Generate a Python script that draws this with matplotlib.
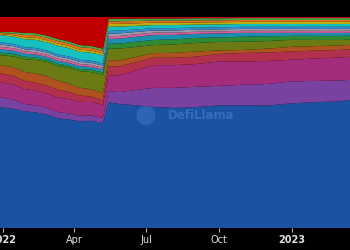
import numpy as np
import pandas as pd
import matplotlib
matplotlib.use("Agg")
import matplotlib.pyplot as plt
import matplotlib.dates as mdates

# dates of the sampled points (dominance %, stacked to 100)
dates = pd.to_datetime([
    "2021-12-28", "2022-01-14", "2022-01-28", "2022-02-11", "2022-02-25",
    "2022-03-11", "2022-03-25", "2022-04-08", "2022-04-22", "2022-05-07",
    "2022-05-14", "2022-05-28", "2022-06-15", "2022-07-10", "2022-08-05",
    "2022-09-01", "2022-10-01", "2022-11-01", "2022-12-01", "2023-01-01",
    "2023-02-01", "2023-03-01", "2023-03-15",
])

blue = [57.3, 56.5, 55.3, 54.8, 54.3, 52.5, 52.0, 50.5, 50.8, 49.8,
        59.5, 58.3, 57.6, 57.3, 56.9, 57.3, 58.1, 58.1, 57.6, 59.0, 59.3, 59.6, 60.7]
purple = [4.7, 4.3, 3.5, 3.3, 3.2, 3.0, 2.9, 2.7, 2.5, 2.4,
          5.2, 5.6, 7.0, 9.1, 9.5, 9.6, 9.2, 9.7, 10.2, 10.3, 10.0, 9.8, 9.5]
magenta = [7.1, 7.2, 7.1, 7.0, 7.0, 7.0, 6.8, 6.6, 6.4, 6.2,
           7.4, 7.9, 9.0, 10.8, 10.8, 10.8, 11.5, 11.0, 10.8, 10.3, 10.6, 10.8, 10.9]
crimson = [4.3, 4.1, 3.9, 3.8, 3.8, 3.7, 3.4, 3.0, 2.6, 2.4,
           4.3, 4.2, 3.9, 3.5, 3.5, 3.5, 3.6, 4.1, 4.0, 3.9, 3.7, 3.6, 3.6]
orange = [3.8, 4.0, 4.2, 4.3, 4.4, 4.3, 4.0, 3.7, 3.4, 3.3,
          3.0, 2.8, 2.5, 2.2, 2.3, 2.4, 1.7, 1.4, 1.8, 2.2, 2.1, 2.1, 2.1]
olive = [4.7, 5.2, 6.0, 6.4, 6.8, 7.0, 7.5, 7.8, 8.2, 8.5,
         5.5, 5.5, 4.8, 3.8, 4.0, 4.1, 4.0, 3.9, 3.6, 3.3, 2.9, 2.6, 2.4]
green = [1.2, 1.2, 1.2, 1.2, 1.1, 1.1, 1.1, 1.1, 1.1, 1.1,
         2.3, 2.4, 2.4, 2.4, 2.4, 2.4, 2.1, 2.4, 2.2, 1.9, 1.9, 1.9, 1.9]
teal = [1.6, 1.5, 1.4, 1.4, 1.3, 1.4, 1.3, 1.3, 1.3, 1.3,
        2.3, 2.3, 2.3, 2.4, 2.1, 1.9, 1.9, 1.8, 1.6, 1.4, 1.4, 1.4, 1.4]
pink = [1.2, 1.2, 1.1, 1.1, 1.1, 1.1, 1.1, 1.0, 1.0, 1.0,
        1.3, 1.3, 1.2, 1.1, 1.1, 1.0, 1.0, 1.0, 1.0, 1.0, 1.0, 1.0, 1.0]
gray = [1.1, 1.0, 1.0, 1.0, 1.0, 1.0, 1.0, 1.0, 1.0, 1.0,
        1.2, 1.2, 1.1, 1.0, 1.0, 1.0, 0.9, 0.9, 0.9, 0.9, 0.9, 0.9, 0.9]
light_blue = [1.1, 1.0, 1.0, 1.0, 1.0, 1.0, 1.0, 1.0, 1.0, 1.0,
              1.3, 1.3, 1.2, 1.1, 1.1, 1.0, 1.0, 1.0, 1.0, 1.0, 1.0, 1.0, 1.0]
cyan = [3.3, 3.5, 3.8, 3.9, 3.9, 4.2, 4.0, 3.8, 3.8, 3.8,
        2.0, 1.9, 1.7, 1.5, 1.5, 1.4, 1.4, 1.3, 1.3, 1.3, 1.3, 1.3, 1.3]
yellow = [0.5, 0.7, 0.9, 1.0, 1.0, 1.0, 1.0, 1.0, 1.0, 1.0,
          1.3, 1.3, 1.2, 1.1, 1.1, 1.0, 1.0, 1.0, 1.0, 1.0, 1.0, 1.0, 1.0]
orange2 = [0.5, 0.8, 1.1, 1.1, 1.2, 1.2, 1.2, 1.2, 1.2, 1.2,
           1.2, 1.2, 1.1, 1.0, 1.0, 1.0, 0.9, 0.9, 0.9, 0.9, 0.9, 0.9, 0.9]
green2 = [0.4, 0.7, 1.0, 1.0, 1.0, 1.0, 1.0, 1.0, 1.0, 1.0,
          1.2, 1.2, 1.1, 1.0, 1.0, 1.0, 1.0, 0.9, 0.9, 0.9, 0.9, 0.9, 0.9]
red = [7.2, 7.1, 7.5, 7.7, 8.9, 10.5, 11.7, 13.3, 13.7, 15.0,
       0.9, 0.8, 0.8, 0.7, 0.7, 0.6, 0.6, 0.5, 0.5, 0.5, 0.5, 0.5, 0.5]

series = [blue, purple, magenta, crimson, orange, olive, green, teal,
          pink, gray, light_blue, cyan, yellow, orange2, green2, red]
colors = ["#1b52a1", "#7a42a0", "#a32c7c", "#b0304e", "#ae5220", "#6b7a12",
          "#2f8a32", "#1a8fb0", "#d0609a", "#9a9aa8", "#3a8ad0", "#16bfc0",
          "#b8b010", "#e0701a", "#4aa84a", "#c00000"]

values = np.array(series, dtype=float)
values = values / values.sum(axis=0) * 100

fig = plt.figure(figsize=(3.5, 2.5), dpi=100, facecolor="black")
ax = fig.add_axes([0, 0.088, 1, 0.844])
ax.set_facecolor("black")

ax.stackplot(dates, values, colors=colors, linewidth=0)

ax.set_xlim(dates[0], dates[-1])
ax.set_ylim(0, 100)
ax.set_yticks([])
for s in ax.spines.values():
    s.set_visible(False)

ticks = pd.to_datetime(["2022-01-01", "2022-04-01", "2022-07-01", "2022-10-01", "2023-01-01"])
ax.set_xticks(ticks)
ax.set_xticklabels(["2022", "Apr", "Jul", "Oct", "2023"])
ax.tick_params(axis="x", colors="#b8b8b8", labelcolor="#e0e0e0", length=3,
               width=0.8, labelsize=7, pad=2)
for lbl in ax.get_xticklabels():
    if lbl.get_text() in ("2022", "2023"):
        lbl.set_fontweight("bold")

# watermark
ax.text(0.48, 0.535, "DefiLlama", transform=ax.transAxes, color="#5a8fd8",
        alpha=0.45, fontsize=8.5, fontweight="bold", ha="left", va="center")
ax.text(0.415, 0.535, "\u25CF", transform=ax.transAxes, color="#5a8fd8",
        alpha=0.3, fontsize=18, ha="center", va="center")

fig.savefig("out.png", dpi=100, facecolor="black")
